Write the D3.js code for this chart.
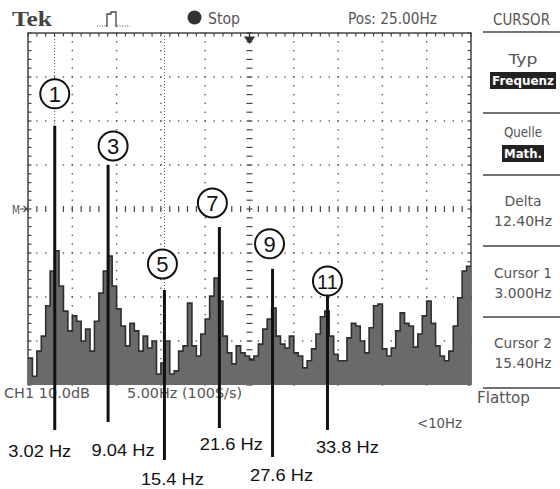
<!DOCTYPE html>
<html>
<head>
<meta charset="utf-8">
<script src="https://cdn.jsdelivr.net/npm/d3@7"></script>
<style>
  html, body { margin: 0; padding: 0; background: #fff; }
  svg { display: block; }
  .scope { font-family: "DejaVu Sans", sans-serif; fill: #555; }
  .note { font-family: "Liberation Sans", Arial, sans-serif; fill: #111; }
</style>
</head>
<body>
<div id="chartDiv"></div>
<script>
// spectrum, 0.5 Hz bins starting at 0 Hz, level in dB (0 dB = M marker, 10 dB/div)
const binWidth = 0.5;
const levels = [
  -33.9, -38.0, -32.3, -28.9, -22.0, -14.1, -9.5, -17.5, -23.2, -27.7,
  -24.3, -25.5, -30.0, -27.3, -32.3, -25.5, -19.1, -14.1, -10.7, -17.5,
  -22.7, -26.6, -31.1, -26.0, -27.7, -32.3, -28.9, -31.6, -30.0, -37.5,
  -35.0, -30.0, -37.5, -36.8, -32.3, -31.1, -21.4, -31.1, -33.4, -28.4,
  -25.0, -19.8, -15.7, -20.9, -28.9, -32.7, -35.2, -31.1, -32.7, -33.4,
  -34.3, -33.4, -30.7, -27.3, -25.0, -22.5, -28.9, -30.7, -31.6, -28.9,
  -32.7, -33.4, -36.1, -34.5, -31.8, -28.4, -24.5, -23.2, -28.9, -33.0,
  -34.5, -34.5, -29.3, -26.0, -26.6, -30.0, -32.7, -27.0, -22.0, -21.6,
  -31.8, -33.4, -31.6, -27.7, -23.6, -26.0, -26.6, -31.4, -28.4, -24.3,
  -20.9, -26.0, -31.1, -33.4, -34.5, -32.3, -26.6, -20.2, -14.1, -13.0
];

// odd harmonics marked on the picture
const harmonicNums = [1, 3, 5, 7, 9, 11];
const harmonicFreqs = [3.02, 9.04, 15.4, 21.6, 27.6, 33.8];
const harmonicLabels = ["3.02 Hz", "9.04 Hz", "15.4 Hz", "21.6 Hz", "27.6 Hz", "33.8 Hz"];
const harmonicTopDb = [18.9, 10.0, -18.4, -4.1, -13.6, -19.8];

// cursors
const cursorFreqs = [3.0, 15.4];

// scope readouts
const menuTitle = "CURSOR";
const menuItems = [
  ["Typ", "Frequenz", true],
  ["Quelle", "Math.", true],
  ["Delta", "12.40Hz", false],
  ["Cursor 1", "3.000Hz", false],
  ["Cursor 2", "15.40Hz", false]
];

const width = 560, height = 489;
const svg = d3.select("#chartDiv").append("svg")
  .attr("width", width).attr("height", height);

// condensed scope lettering: squeeze text to the width it has on screen
function scopeText(px, py, str, w, size, anchor) {
  return svg.append("text").attr("class", "scope")
    .attr("x", px).attr("y", py)
    .attr("text-anchor", anchor || "start")
    .attr("textLength", w).attr("lengthAdjust", "spacingAndGlyphs")
    .style("font-size", size + "px")
    .text(str);
}

const plot = {left: 28, right: 471, top: 33, bottom: 385};
const x = d3.scaleLinear().domain([0, 50]).range([plot.left, plot.right]);
const y = d3.scaleLinear().domain([-40, 40]).range([plot.bottom, plot.top]);
const divX = (plot.right - plot.left) / 10, divY = (plot.bottom - plot.top) / 8;

// graticule dots
const grid = svg.append("g").attr("fill", "#555");
d3.range(1, 10).filter(k => k !== 5).forEach(k => {
  d3.range(0, 41).forEach(j => {
    grid.append("rect").attr("x", plot.left + k * divX - 0.7).attr("y", plot.top + j * divY / 5 - 0.7)
      .attr("width", 1.4).attr("height", 1.4);
  });
});
d3.range(1, 8).filter(k => k !== 4).forEach(k => {
  d3.range(0, 51).forEach(j => {
    grid.append("rect").attr("x", plot.left + j * divX / 5 - 0.7).attr("y", plot.top + k * divY - 0.7)
      .attr("width", 1.4).attr("height", 1.4);
  });
});

// centre lines with minor ticks, plus frame ticks
const ticks = svg.append("g").attr("stroke", "#444").attr("stroke-width", 1.2);
const cx = plot.left + 5 * divX, cy = plot.top + 4 * divY;
d3.range(0, 51).forEach(j => {
  const xx = plot.left + j * divX / 5;
  ticks.append("line").attr("x1", xx).attr("x2", xx).attr("y1", cy - 3).attr("y2", cy + 3);
  ticks.append("line").attr("x1", xx).attr("x2", xx).attr("y1", plot.top).attr("y2", plot.top + 3.5);
});
d3.range(0, 41).forEach(j => {
  const yy = plot.top + j * divY / 5;
  ticks.append("line").attr("x1", cx - 3).attr("x2", cx + 3).attr("y1", yy).attr("y2", yy);
  ticks.append("line").attr("x1", plot.left).attr("x2", plot.left + 3.5).attr("y1", yy).attr("y2", yy);
  ticks.append("line").attr("x1", plot.right - 3.5).attr("x2", plot.right).attr("y1", yy).attr("y2", yy);
});

// frame
svg.append("path")
  .attr("d", `M${plot.left},${plot.bottom}V${plot.top}H${plot.right}V${plot.bottom}`)
  .attr("fill", "none").attr("stroke", "#444").attr("stroke-width", 1.5);

// cursors (dotted)
svg.selectAll("line.cursor").data(cursorFreqs).enter().append("line")
  .attr("class", "cursor")
  .attr("x1", d => x(d)).attr("x2", d => x(d))
  .attr("y1", plot.top).attr("y2", plot.bottom)
  .attr("stroke", "#555").attr("stroke-width", 1).attr("stroke-dasharray", "1,2");

// spectrum trace
const pts = levels.map((v, i) => [i * binWidth, v]);
pts.push([50, levels[levels.length - 1]]);
const area = d3.area()
  .x(d => x(d[0])).y0(y(-40)).y1(d => y(d[1]))
  .curve(d3.curveStepAfter);
const line = d3.line()
  .x(d => x(d[0])).y(d => y(d[1]))
  .curve(d3.curveStepAfter);
svg.append("path").datum(pts).attr("d", area).attr("fill", "#6a6a6a");
svg.append("path").datum(pts).attr("d", line)
  .attr("fill", "none").attr("stroke", "#2e2e2e").attr("stroke-width", 1.6);

// trigger position arrow at top
svg.append("path")
  .attr("d", `M${cx},${plot.top - 1}V${plot.top + 4}M${cx - 4.5},${plot.top + 4}H${cx + 4.5}L${cx},${plot.top + 10}Z`)
  .attr("fill", "#333").attr("stroke", "#333").attr("stroke-width", 1.2);

// M marker
scopeText(12, cy + 5, "M", 8, 12);
svg.append("path").attr("d", `M20,${cy}H27M23.5,${cy - 3}L27,${cy}L23.5,${cy + 3}`)
  .attr("fill", "none").attr("stroke", "#444").attr("stroke-width", 1.2);

// top bar
svg.append("text").attr("x", 12).attr("y", 26)
  .attr("textLength", 40).attr("lengthAdjust", "spacingAndGlyphs")
  .style("font-family", "'Liberation Serif', serif").style("font-weight", "bold")
  .style("font-size", "21px").style("fill", "#444").text("Tek");
svg.append("path").attr("d", "M97,26H106M117,26H130")
  .attr("stroke", "#555").attr("stroke-width", 1).attr("stroke-dasharray", "1,1.5");
svg.append("path").attr("d", "M106,26H107V14H111V12H116V26H117")
  .attr("fill", "none").attr("stroke", "#444").attr("stroke-width", 1.3);
svg.append("circle").attr("cx", 194.5).attr("cy", 17.5).attr("r", 7).attr("fill", "#333");
scopeText(208, 24, "Stop", 32, 16);
scopeText(348, 24, "Pos: 25.00Hz", 89, 16);

// right menu
const menuX0 = 483, menuX1 = 560, menuC = 523;
scopeText(493, 25, menuTitle, 57, 16);
const sepY = [32, 113, 175, 246, 317, 388];
sepY.forEach(yy => svg.append("line").attr("x1", menuX0).attr("x2", menuX1)
  .attr("y1", yy).attr("y2", yy).attr("stroke", "#444").attr("stroke-width", 1.5));
const nameW = [29, 38, 37, 58, 58];
const valueW = [62, 38, 58, 57, 57];
const nameY = [64, 137, 206, 278, 348];
menuItems.forEach((m, i) => {
  scopeText(menuC, nameY[i], m[0], nameW[i], 14, "middle");
  const v = scopeText(menuC, nameY[i] + (m[2] ? 21 : 20), m[1], valueW[i], m[2] ? 12 : 14, "middle");
  if (m[2]) {
    v.style("fill", "#fff").style("font-weight", "bold");
    svg.insert("rect", () => v.node())
      .attr("x", menuC - valueW[i] / 2 - 2).attr("y", nameY[i] + 8)
      .attr("width", valueW[i] + 4).attr("height", 17)
      .attr("fill", "#222");
  }
});

// bottom readouts
scopeText(4, 398, "CH1 10.0dB", 86, 14);
scopeText(127, 398, "5.00Hz (100S/s)", 115, 14);
scopeText(477, 403, "Flattop", 53, 15);
scopeText(417, 428, "<10Hz", 45, 14);

// harmonic annotations
const labelY = [457, 456, 485, 450, 481, 453];
const lineEnd = [430, 422, 460, 428, 457, 430];
const circleDx = [0, 5, -2, -7, -3, 0];
const circleDy = [-32, -19, -26, -24, -25, -15];
const labelDx = [-15, 15, 8, 12, 9, 20];
harmonicFreqs.forEach((f, i) => {
  const xx = x(f);
  const top = y(harmonicTopDb[i]);
  svg.append("line").attr("x1", xx).attr("x2", xx).attr("y1", top).attr("y2", lineEnd[i])
    .attr("stroke", "#111").attr("stroke-width", 3);
  const ccx = xx + circleDx[i], ccy = top + circleDy[i];
  svg.append("circle").attr("cx", ccx).attr("cy", ccy).attr("r", 14.5)
    .attr("fill", "#fff").attr("stroke", "#111").attr("stroke-width", 2);
  svg.append("text").attr("class", "note").attr("x", ccx).attr("y", ccy + 8)
    .attr("text-anchor", "middle").style("font-size", harmonicNums[i] > 9 ? "20px" : "22px")
    .text(harmonicNums[i]);
  svg.append("text").attr("class", "note").attr("x", xx + labelDx[i]).attr("y", labelY[i])
    .attr("text-anchor", "middle").style("font-size", "17px")
    .attr("textLength", 63).attr("lengthAdjust", "spacingAndGlyphs")
    .text(harmonicLabels[i]);
});
</script>
</body>
</html>
